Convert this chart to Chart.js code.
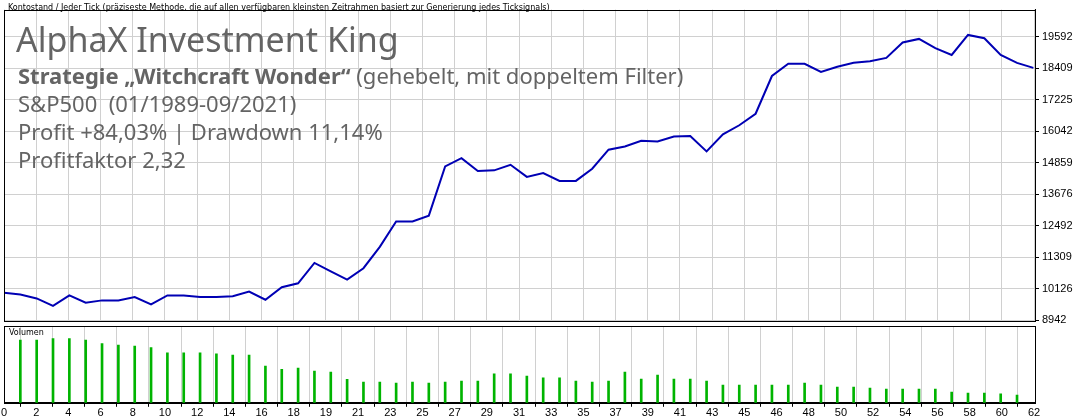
<!DOCTYPE html>
<html>
<head>
<meta charset="utf-8">
<script src="https://cdn.jsdelivr.net/npm/chart.js@4"></script>
<style>
  body { margin: 0; background: #fff; width: 1080px; height: 420px; overflow: hidden; position: relative; font-family: "Noto Sans", sans-serif; }
  #top { position: absolute; left: 0; top: 0; }
  #bottom { position: absolute; left: 0; top: 318px; }
  .t { position: absolute; color: #646464; white-space: nowrap; }
  .small { font-family: "DejaVu Sans", sans-serif; font-size: 8px; color: #000; }
</style>
</head>
<body>
<canvas id="top" width="1080" height="330"></canvas>
<canvas id="bottom" width="1080" height="102"></canvas>
<div class="t small" style="left:8px;top:3px">Kontostand / Jeder Tick (präziseste Methode, die auf allen verfügbaren kleinsten Zeitrahmen basiert zur Generierung jedes Ticksignals)</div>
<div class="t" style="left:16px;top:16px;font-size:34px">AlphaX Investment King</div>
<div class="t" style="left:18px;top:60px;font-size:22px"><b>Strategie „Witchcraft Wonder“</b> (gehebelt, mit doppeltem Filter)</div>
<div class="t" style="left:18px;top:88px;font-size:22px">S&amp;P500&nbsp; (01/1989-09/2021)</div>
<div class="t" style="left:18px;top:116px;font-size:22px">Profit +84,03% | Drawdown 11,14%</div>
<div class="t" style="left:18px;top:144px;font-size:22px">Profitfaktor 2,32</div>
<div class="t small" style="left:9px;top:328px">Volumen</div>
<script>
// balance per trade
var balance = [9977, 9915, 9767, 9485, 9878, 9607, 9693, 9693, 9818, 9545,
  9878, 9878, 9818, 9818, 9850, 10025, 9717, 10185, 10335, 11097,
  10778, 10470, 10900, 11700, 12650, 12650, 12870, 14719, 15025, 14545,
  14570, 14780, 14325, 14470, 14175, 14175, 14631, 15345, 15467, 15677,
  15652, 15837, 15862, 15282, 15918, 16262, 16694, 18110, 18567, 18567,
  18260, 18456, 18604, 18666, 18789, 19365, 19500, 19155, 18900, 19650,
  19525, 18900, 18600, 18415];
// lot size per trade
var volume = [1.88, 1.88, 1.92, 1.92, 1.88, 1.77, 1.73, 1.70, 1.65, 1.50,
  1.50, 1.50, 1.47, 1.43, 1.43, 1.10, 1.00, 1.04, 0.95, 0.92,
  0.70, 0.62, 0.62, 0.59, 0.62, 0.59, 0.62, 0.65, 0.65, 0.87,
  0.87, 0.80, 0.75, 0.75, 0.65, 0.62, 0.65, 0.92, 0.71, 0.83,
  0.71, 0.71, 0.65, 0.53, 0.53, 0.53, 0.53, 0.53, 0.59, 0.53,
  0.47, 0.47, 0.44, 0.41, 0.41, 0.41, 0.41, 0.32, 0.29, 0.29,
  0.27, 0.23];
var yTicks = [8942, 10126, 11309, 12492, 13676, 14859, 16042, 17225, 18409, 19592];
var xTickLabels = ['0', '2', '4', '6', '8', '10', '12', '14', '16', '18', '19', '21', '23', '25', '27',
  '29', '31', '33', '35', '37', '39', '41', '43', '45', '46', '48', '50', '52', '54', '56', '58', '60', '62'];

var X_MAX = 63.1;
var X_STEP = 1.97;
var axisFont = { family: 'Liberation Sans', size: 11 };
var gridStyle = { color: '#d0d0d0', borderDash: [4, 3], drawTicks: true, tickLength: 4, tickColor: '#000' };

function xTicks(axis) {
  axis.ticks = xTickLabels.map(function(l, i) { return { value: i * X_STEP }; });
}

var frame = {
  id: 'frame',
  afterDraw: function(chart) {
    var a = chart.chartArea, c = chart.ctx;
    c.save();
    c.strokeStyle = '#000';
    c.lineWidth = 1;
    c.strokeRect(Math.round(a.left) + 0.5, Math.round(a.top) + 0.5, Math.round(a.right - a.left), Math.round(a.bottom - a.top));
    c.restore();
  }
};

new Chart(document.getElementById('top'), {
  type: 'line',
  data: {
    datasets: [{
      data: balance.map(function(v, i) { return { x: i, y: v }; }),
      borderColor: '#0000b4',
      borderWidth: 2,
      pointRadius: 0,
      tension: 0
    }]
  },
  options: {
    responsive: false,
    animation: false,
    layout: { padding: { left: 4, top: 0, right: 0, bottom: 0 } },
    plugins: { legend: { display: false }, tooltip: { enabled: false } },
    scales: {
      x: {
        type: 'linear', min: 0, max: X_MAX,
        afterBuildTicks: xTicks,
        grid: { color: '#d0d0d0', borderDash: [4, 3], drawTicks: false },
        border: { display: false },
        ticks: { display: false }
      },
      y: {
        position: 'right', min: 8942, max: 20600,
        afterBuildTicks: function(axis) { axis.ticks = yTicks.map(function(v) { return { value: v }; }); },
        afterFit: function(axis) { axis.width = 45; },
        grid: gridStyle,
        border: { color: '#000' },
        ticks: { font: axisFont, color: '#000', padding: 3, callback: function(v) { return String(v); } }
      }
    }
  },
  plugins: [frame]
});

new Chart(document.getElementById('bottom'), {
  type: 'bar',
  data: {
    datasets: [{
      data: volume.map(function(v, i) { return { x: i + 1, y: v }; }),
      backgroundColor: '#00b400',
      barThickness: 2
    }]
  },
  options: {
    responsive: false,
    animation: false,
    layout: { padding: { left: 4, top: 8, right: 0, bottom: 0 } },
    plugins: { legend: { display: false }, tooltip: { enabled: false } },
    scales: {
      x: {
        type: 'linear', min: 0, max: X_MAX, offset: false,
        afterBuildTicks: xTicks,
        grid: { color: '#d0d0d0', borderDash: [4, 3], tickLength: 4, tickColor: '#000' },
        border: { color: '#000' },
        ticks: {
          font: axisFont, color: '#000', padding: 0, maxRotation: 0, autoSkip: false,
          callback: function(v, i) { return xTickLabels[i]; }
        }
      },
      y: {
        position: 'right', min: 0, max: 2.3,
        afterFit: function(axis) { axis.width = 45; },
        grid: { display: false },
        border: { color: '#000' },
        ticks: { display: false }
      }
    }
  },
  plugins: [frame]
});
</script>
</body>
</html>
